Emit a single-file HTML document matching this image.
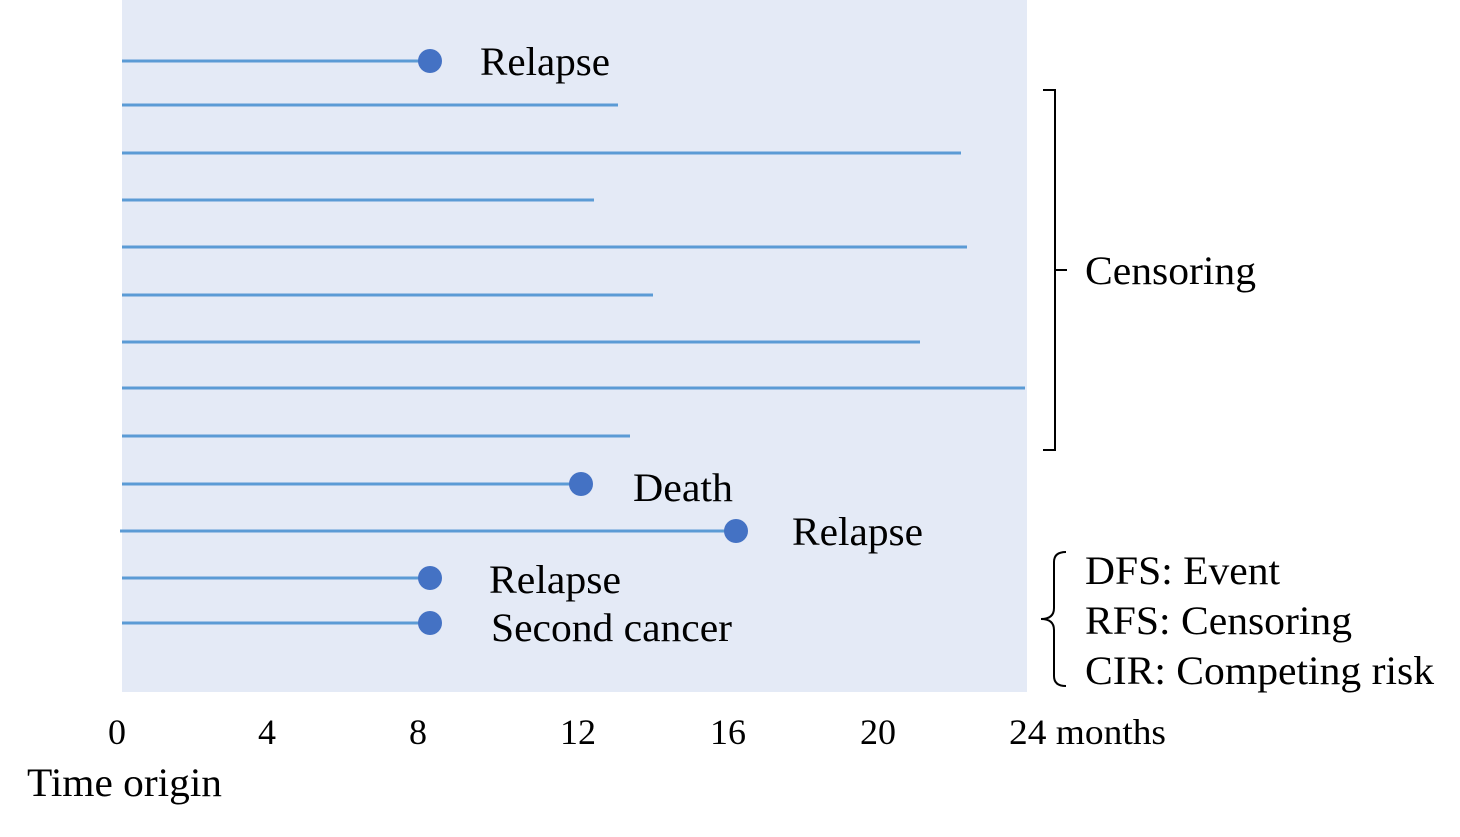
<!DOCTYPE html>
<html><head><style>
body{margin:0;width:1460px;height:832px;background:#fff;overflow:hidden}
svg text{font-family:"Liberation Serif",serif;fill:#000}
</style></head><body>
<svg width="1460" height="832" viewBox="0 0 1460 832">
<rect x="122" y="0" width="905" height="692" fill="#e4eaf6"/>
<g stroke="#5b9bd5" stroke-width="3">
<line x1="122" y1="61" x2="430" y2="61"/>
<line x1="122" y1="105" x2="618" y2="105"/>
<line x1="122" y1="153" x2="961" y2="153"/>
<line x1="122" y1="200" x2="594" y2="200"/>
<line x1="122" y1="247" x2="967" y2="247"/>
<line x1="122" y1="295" x2="653" y2="295"/>
<line x1="122" y1="342" x2="920" y2="342"/>
<line x1="122" y1="388" x2="1025" y2="388"/>
<line x1="122" y1="436" x2="630" y2="436"/>
<line x1="122" y1="484" x2="581" y2="484"/>
<line x1="120" y1="531" x2="736" y2="531"/>
<line x1="122" y1="578" x2="430" y2="578"/>
<line x1="122" y1="623" x2="430" y2="623"/>
</g>
<g fill="#4472c4">
<circle cx="430" cy="61" r="12"/>
<circle cx="581" cy="484" r="12"/>
<circle cx="736" cy="531" r="12"/>
<circle cx="430" cy="578" r="12"/>
<circle cx="430" cy="623" r="12"/>
</g>
<g font-size="40">
<text x="480" y="75" textLength="130" lengthAdjust="spacingAndGlyphs">Relapse</text>
<text x="633" y="501" textLength="100" lengthAdjust="spacingAndGlyphs">Death</text>
<text x="792" y="545" textLength="131" lengthAdjust="spacingAndGlyphs">Relapse</text>
<text x="489" y="593" textLength="132" lengthAdjust="spacingAndGlyphs">Relapse</text>
<text x="491" y="641" textLength="241" lengthAdjust="spacingAndGlyphs">Second cancer</text>
<text x="1085" y="284" textLength="171" lengthAdjust="spacingAndGlyphs">Censoring</text>
<text x="1085" y="584" textLength="195" lengthAdjust="spacingAndGlyphs">DFS: Event</text>
<text x="1085" y="634" textLength="267" lengthAdjust="spacingAndGlyphs">RFS: Censoring</text>
<text x="1085" y="684" textLength="349" lengthAdjust="spacingAndGlyphs">CIR: Competing risk</text>
</g>
<g fill="none" stroke="#000" stroke-width="2">
<path d="M1043 90 H1055 V450 H1043 M1055 270 H1067"/>
<path d="M1066 552 Q1054 552 1054 562 V608 Q1054 619 1041 619 Q1054 619 1054 630 V676 Q1054 686 1066 686"/>
</g>
<g font-size="36">
<text x="108" y="744">0</text>
<text x="258" y="744">4</text>
<text x="409" y="744">8</text>
<text x="560" y="744">12</text>
<text x="710" y="744">16</text>
<text x="860" y="744">20</text>
<text x="1009" y="744" textLength="157" lengthAdjust="spacingAndGlyphs">24 months</text>
<text x="27" y="796" font-size="40" textLength="195" lengthAdjust="spacingAndGlyphs">Time origin</text>
</g>
</svg>
</body></html>
